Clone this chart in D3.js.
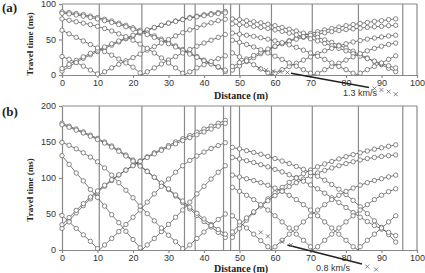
<!DOCTYPE html>
<html lang="en">
<head>
<meta charset="UTF-8">
<title>Travel time vs distance</title>
<script src="https://d3js.org/d3.v7.min.js"></script>
<style>
    body { margin: 0; background: #fff; }
    svg { display: block; }
    .axis text { font-family: "Liberation Sans", Arial, sans-serif; font-size: 9px; fill: #333; }
    .axis path, .axis line { stroke: #888; stroke-width: 1.2; }
    .title { font-family: "Liberation Serif", "Times New Roman", serif; font-weight: bold; fill: #222; }
    .note { font-family: "Liberation Sans", Arial, sans-serif; font-size: 9px; fill: #333; }
    .curve { fill: none; stroke: #555; stroke-width: 0.8; }
    .geo { fill: #fff; stroke: #6a6a6a; stroke-width: 0.8; }
    .marker { stroke: #8a8a8a; stroke-width: 1.2; }
</style>
</head>
<body>
<svg id="chart" width="425" height="273"></svg>
<script>
// geophone positions (m)
const geoLeft = [0, 2, 4, 6, 8, 10, 12, 14, 16, 18, 20, 22, 24, 26, 28, 30, 32, 34, 36, 38, 40, 42, 44, 46];
const geoRight = [48, 50, 52, 54, 56, 58, 60, 62, 64, 66, 68, 70, 72, 74, 76, 78, 80, 82, 84, 86, 88, 90, 92, 94];
const distTicks = [0, 10, 20, 30, 40, 50, 60, 70, 80, 90, 100];
const timeTicksA = [0, 50, 100];
const timeTicksB = [0, 50, 100, 150, 200];
const markerLines = [10.5, 22.5, 34.5, 37.5, 45.5, 47.5, 50, 59, 70.5, 83.5, 96];
const shotsLeft = [10.5, 22.5, 34.5];
const shotsRight = [59, 70.5, 83.5];

// (a) travel times (ms), left spread
const fwdA1 = [5.5, 12, 18, 23.5, 28.5, 33, 37.5, 42, 46.5, 51, 55, 59, 63, 66.5, 70, 73, 76, 78.5, 81, 83, 85, 86.5, 88, 89.5];
const fwdA2 = [9, 15, 20.5, 25.5, 30.5, 35, 39.5, 44, 48, 52, 56, 60, 63.5, 67, 70, 73, 75.5, 78, 80, 82, 83.5, 85, 86.5, 87.5];
const revA1 = [89, 88, 86.5, 85, 83, 81, 78.5, 76, 73, 70, 66.5, 63, 59, 55, 50.5, 46, 41, 36, 31, 26, 21, 16, 11, 5];
const revA2 = [87, 86, 84.5, 83, 81, 79, 76.5, 74, 71, 68, 64.5, 61, 57, 53, 48.5, 44, 39.5, 34.5, 29.5, 25, 20, 15.5, 11.5, 7];
const vA10 = [26, 22, 17.5, 12.5, 7, 1.5, 4.5, 10, 15, 20, 24.5, 29.5, 35, 40, 45, 50, 55, 59.5, 63.5, 67, 70.5, 73.5, 76.5, 78.5];
const vA22 = [63, 58, 53, 48, 43, 38, 33, 28, 22.5, 17, 11, 3, 4.5, 10, 15.5, 21, 26, 31, 36, 40.5, 45, 49, 53, 57];
const vA34 = [79, 77, 75, 73, 71, 68.5, 65.5, 62, 58, 54, 49, 43.5, 37.5, 31, 24, 17, 10, 2.5, 4.5, 10, 14.5, 19, 23, 27];
// (a) right spread
const fwdA3 = [7, 13, 19, 24.5, 30, 35, 40, 44.5, 48.5, 52, 55.5, 58.5, 61, 63.5, 65.5, 67.5, 69.5, 71, 72.5, 74, 75.5, 76.5, 78, 79];
const fwdA4 = [12, 17.5, 22.5, 27.5, 32, 36.5, 40.5, 44, 47.5, 50.5, 53, 55.5, 57.5, 59.5, 61, 62.5, 64, 65, 66, 67, 68, 68.5, 69.5, 70];
const revA3 = [79, 78, 76.5, 75, 73.5, 71.5, 69.5, 67, 64.5, 62, 59, 56, 53, 49.5, 46, 42, 38, 33.5, 28.5, 24, 19, 14.5, 9.5, 4.7];
const revA4 = [72, 71, 70, 68.5, 67, 65.5, 63.5, 61.5, 59, 56.5, 54, 51, 48, 44.5, 41, 37.5, 34, 30, 26.5, 23, 19.5, 16, 13, 10];
const vA59 = [31, 25.5, 20, 14.5, 8.5, 3, 2.5, 7.5, 12, 16.5, 21, 25.5, 30, 34, 37.5, 41, 44, 46.5, 48.5, 50.5, 52, 53.5, 55, 56];
const vA71 = [49, 46, 43, 39.5, 35.5, 31, 26.5, 22, 17, 12.5, 7.5, 2.5, 2.5, 7.5, 12, 16.5, 21, 25.5, 30, 34, 37.5, 40.5, 43, 45];
const vA83 = [59, 57.5, 56, 54.5, 52.5, 50.5, 48, 45.5, 42.5, 39, 35, 31, 26.5, 22, 17, 12, 7.5, 2.5, 2.5, 7.5, 12, 17, 22, 27];
const crossAx = [55.5, 57.5, 59.5, 61.5, 63.5, 88, 90, 92, 94];
const crossAt = [9.5, 7, 5.5, 4.5, 3.5, -19, -21, -23.5, -27];
const slowAx = [64.5, 86.5];
const slowAt = [2.5, -17.5];

// (b) travel times (ms), left spread
const fwdB1 = [30, 41, 51.5, 61.5, 71, 80, 88.5, 96.5, 104, 111, 117.5, 123.5, 129.5, 135, 140, 145, 150, 154.5, 159, 163.5, 168, 172, 176, 180];
const fwdB2 = [35, 45, 55, 64.5, 73.5, 82, 90, 97.5, 104.5, 111, 117, 123, 128.5, 133.5, 138.5, 143, 147.5, 152, 156, 160, 164, 168, 172, 176];
const revB1 = [176, 172, 168, 164, 159.5, 155, 150, 144.5, 138.5, 132, 125, 117.5, 109.5, 101, 92.5, 84, 75, 66, 57, 48, 39.5, 32, 24.5, 17.5];
const revB2 = [174, 170.5, 166.5, 162.5, 158, 153.5, 148.5, 143, 137, 130.5, 123.5, 116.5, 109, 101, 93, 85, 76.5, 68, 59.5, 51, 43, 35.5, 28.5, 22];
const vB10 = [48, 39, 30, 21, 12, 2, 7, 16, 25.5, 35.5, 45.5, 55.5, 66.5, 78, 88.5, 98.5, 108, 117, 124.5, 130.5, 136, 141, 145, 149];
const vB22 = [131, 119, 107, 96, 84, 73, 61, 49, 38, 26, 14.5, 3, 7, 16, 25.5, 35.5, 45.5, 55.5, 66.5, 78, 88.5, 98.5, 108, 117];
const vB34 = [149.5, 145.5, 140.5, 135, 129, 122.5, 114, 104, 93.5, 83, 72.5, 61, 50.5, 40.5, 30.5, 20.5, 11.5, 2, 7, 16, 25, 34, 42.5, 50];
// (b) right spread
const fwdB3 = [17.5, 30, 41.5, 52, 62, 71, 79.5, 87, 94, 100.5, 106, 111, 115.5, 119.5, 123, 126.5, 129.5, 132.5, 135, 137.5, 140, 142, 144, 146];
const fwdB4 = [25, 35, 44.5, 53, 61, 68.5, 75.5, 82, 88, 93.5, 98.5, 103, 107, 110.5, 114, 117, 120, 122.5, 125, 127, 128.5, 130, 131, 132];
const revB3 = [142.5, 140.5, 138, 135.5, 133, 130, 127, 123.5, 120, 116, 112, 107.5, 102.5, 97, 91, 84.5, 77, 69, 60, 50.5, 40.5, 31.5, 21.5, 11];
const revB4 = [128.5, 126.5, 124, 121.5, 118.5, 115.5, 112, 108.5, 104.5, 100, 95.5, 90.5, 85, 79, 72.5, 66, 59, 52, 45.5, 39.5, 34, 29, 24.5, 20];
const vB59 = [47.5, 39, 30.5, 22, 13, 4.5, 4.5, 13.5, 22, 30.5, 39, 47.5, 55.5, 63, 70, 76, 81.5, 86, 90, 93.5, 96.5, 99, 101.5, 104];
const vB71 = [87, 81.5, 76, 70, 63, 55.5, 47.5, 39, 30.5, 22, 13.5, 4.5, 4.5, 13.5, 22, 30.5, 39, 47.5, 55.5, 63, 70, 76, 81, 85];
const vB83 = [104, 101.5, 99, 96.5, 93.5, 90, 86, 81.5, 76, 70, 63, 55.5, 47.5, 39, 30.5, 22, 13.5, 4.5, 4.5, 13.5, 22, 30.5, 39, 47.5];
const crossBx = [56, 58, 62, 64.5, 86, 88.5];
const crossBt = [24.5, 19, 11.5, 7, -23, -27];
const slowBx = [63.5, 84.5];
const slowBt = [7, -19.5];

const svg = d3.select("#chart");
const x = d3.scaleLinear().domain([0, 100]).range([62, 417]);

// build a curve: geophone points plus an optional shot point at t = 0
function curve(xs, ts, shot) {
    const pts = xs.map((d, i) => ({ x: d, t: ts[i], geo: true }));
    if (shot != null) {
        const k = pts.findIndex(p => p.x > shot);
        pts.splice(k, 0, { x: shot, t: 0, geo: false });
    }
    return pts;
}

function drawPanel(cfg) {
    const y = d3.scaleLinear().domain(cfg.domain).range(cfg.range);
    const g = svg.append("g");
    const top = y(cfg.domain[1]), bottom = y(0);

    // shot / marker verticals
    g.selectAll(".marker")
        .data(markerLines)
        .enter().append("line")
        .attr("class", "marker")
        .attr("x1", d => x(d)).attr("x2", d => x(d))
        .attr("y1", bottom).attr("y2", top);

    // frame top and right
    g.append("line").attr("class", "marker")
        .attr("x1", x(0)).attr("x2", x(100)).attr("y1", top).attr("y2", top);
    g.append("line").attr("class", "marker")
        .attr("x1", x(100)).attr("x2", x(100)).attr("y1", top).attr("y2", bottom);

    g.append("g").attr("class", "axis")
        .attr("transform", `translate(0,${bottom})`)
        .call(d3.axisBottom(x).tickValues(distTicks).tickSize(3).tickSizeOuter(0).tickPadding(2));
    g.append("g").attr("class", "axis")
        .attr("transform", `translate(${x(0)},0)`)
        .call(d3.axisLeft(y).tickValues(cfg.ticks).tickSize(3).tickSizeOuter(0).tickPadding(3));

    const line = d3.line().x(d => x(d.x)).y(d => y(d.t));
    const all = cfg.curves.map(c => curve(c[0], c[1], c[2]));

    g.selectAll(".curve")
        .data(all)
        .enter().append("path")
        .attr("class", "curve")
        .attr("d", line);

    // slowness line
    g.append("line")
        .attr("x1", x(cfg.slowX[0])).attr("y1", y(cfg.slowT[0]))
        .attr("x2", x(cfg.slowX[1])).attr("y2", y(cfg.slowT[1]))
        .attr("stroke", "#222").attr("stroke-width", 1.6);

    all.forEach(pts => {
        g.selectAll(null)
            .data(pts.filter(p => p.geo))
            .enter().append("circle")
            .attr("class", "geo")
            .attr("cx", d => x(d.x)).attr("cy", d => y(d.t))
            .attr("r", 2.2);
    });

    g.selectAll(".cross")
        .data(cfg.crossX.map((d, i) => ({ x: d, t: cfg.crossT[i] })))
        .enter().append("path")
        .attr("class", "cross")
        .attr("transform", d => `translate(${x(d.x)},${y(d.t)})`)
        .attr("d", "M-2,-2L2,2M-2,2L2,-2")
        .attr("stroke", "#666").attr("stroke-width", 0.8);

    // labels
    svg.append("text").attr("class", "title")
        .attr("x", 2).attr("y", cfg.tagY)
        .style("font-size", "13px").text(cfg.tag);
    svg.append("text").attr("class", "title")
        .attr("transform", `translate(33,${cfg.ylabY}) rotate(-90)`)
        .attr("text-anchor", "middle")
        .style("font-size", "9px").text("Travel time (ms)");
    svg.append("text").attr("class", "title")
        .attr("x", 241).attr("y", cfg.xlabY)
        .attr("text-anchor", "middle")
        .style("font-size", "10px").text("Distance (m)");
    svg.append("text").attr("class", "note")
        .attr("x", cfg.noteX).attr("y", cfg.noteY).text(cfg.note);
}

drawPanel({
    domain: [0, 100], range: [75, 4], ticks: timeTicksA,
    curves: [
        [geoLeft, fwdA1], [geoLeft, fwdA2], [geoLeft, revA1], [geoLeft, revA2],
        [geoLeft, vA10, shotsLeft[0]], [geoLeft, vA22, shotsLeft[1]], [geoLeft, vA34, shotsLeft[2]],
        [geoRight, fwdA3], [geoRight, fwdA4], [geoRight, revA3], [geoRight, revA4],
        [geoRight, vA59, shotsRight[0]], [geoRight, vA71, shotsRight[1]], [geoRight, vA83, shotsRight[2]]
    ],
    crossX: crossAx, crossT: crossAt, slowX: slowAx, slowT: slowAt,
    tag: "(a)", tagY: 12, ylabY: 44, xlabY: 99,
    note: "1.3 km/s", noteX: 343, noteY: 95.5
});

drawPanel({
    domain: [0, 200], range: [250, 106], ticks: timeTicksB,
    curves: [
        [geoLeft, fwdB1], [geoLeft, fwdB2], [geoLeft, revB1], [geoLeft, revB2],
        [geoLeft, vB10, shotsLeft[0]], [geoLeft, vB22, shotsLeft[1]], [geoLeft, vB34, shotsLeft[2]],
        [geoRight, fwdB3], [geoRight, fwdB4], [geoRight, revB3], [geoRight, revB4],
        [geoRight, vB59, shotsRight[0]], [geoRight, vB71, shotsRight[1]], [geoRight, vB83, shotsRight[2]]
    ],
    crossX: crossBx, crossT: crossBt, slowX: slowBx, slowT: slowBt,
    tag: "(b)", tagY: 116, ylabY: 190, xlabY: 272,
    note: "0.8 km/s", noteX: 316, noteY: 270.5
});
</script>
</body>
</html>
